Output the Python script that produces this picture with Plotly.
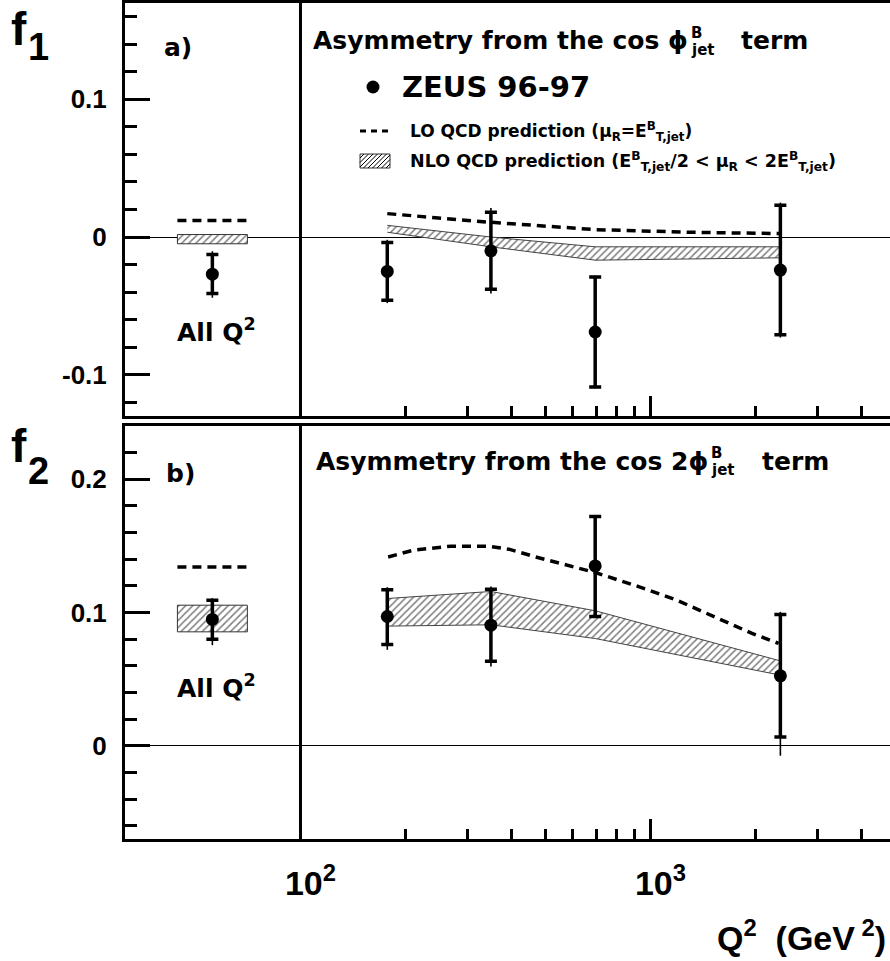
import numpy as np
import plotly.graph_objects as go

# ---------------- data ----------------
Q2_BINS = [177, 350, 695, 2350]

F1 = [-0.025, -0.010, -0.069, -0.024]
F1_STAT = [0.021, 0.028, 0.040, 0.047]
F1_TOT = [0.023, 0.031, 0.041, 0.049]
F1_NLO_LOW = [0.0035, -0.0071, -0.0168, -0.0151]
F1_NLO_HIGH = [0.0085, 0.0000, -0.0071, -0.0071]
F1_LO_Q2 = [177, 350, 695, 1280, 2330]
F1_LO = [0.0170, 0.0107, 0.0054, 0.0035, 0.0025]

F2 = [0.0970, 0.0905, 0.1350, 0.0525]
F2_STAT_UP = [0.020, 0.027, 0.037, 0.046]
F2_STAT_DN = [0.021, 0.027, 0.038, 0.046]
F2_TOT_UP = [0.022, 0.029, 0.038, 0.048]
F2_TOT_DN = [0.025, 0.031, 0.039, 0.060]
F2_NLO_LOW = [0.0898, 0.0908, 0.0805, 0.0530]
F2_NLO_HIGH = [0.1105, 0.1158, 0.1013, 0.0637]
F2_LO_Q2 = [178, 210, 269, 345, 396, 470, 695, 929, 1188, 1523, 1950, 2323]
F2_LO = [0.1417, 0.1468, 0.1498, 0.1498, 0.1474, 0.1417, 0.1300,
         0.1193, 0.1093, 0.0967, 0.0843, 0.0768]

# "All Q^2" summary values
F1_ALL = -0.0270
F1_ALL_STAT = [0.0143, 0.0140]   # up, down
F1_ALL_TOT = [0.0167, 0.0171]
F1_ALL_LO = 0.0120
F1_ALL_NLO = [-0.0049, 0.0018]   # low, high

F2_ALL = 0.0948
F2_ALL_STAT = [0.0145, 0.0148]
F2_ALL_TOT = [0.0160, 0.0193]
F2_ALL_LO = 0.1342
F2_ALL_NLO = [0.0855, 0.1055]

X_TICKS = [100, 1000]
X_TICK_TEXT = ["10<sup>2</sup>", "10<sup>3</sup>"]
X_MINOR = [200, 300, 400, 500, 600, 700, 800, 900, 2000, 3000, 4000]
Y1_TICKS = [-0.1, 0, 0.1]
Y1_TEXT = ["-0.1", "0", "0.1"]
Y2_TICKS = [0, 0.1, 0.2]
Y2_TEXT = ["0", "0.1", "0.2"]

# ---------------- layout constants ----------------
W, H = 890, 961
PL, PR, PT, PB = 125, 890, 3, 839
X_RANGE = [1.4986, 3.6843]          # log10(Q2)
Y1_RANGE = [-0.13, 0.17]
Y2_RANGE = [-0.07, 0.24]
Q2_ALL_POS = 56                     # where the "All Q2" point sits
ALL_BOX = (44.5, 70.5)              # horizontal extent of the All-Q2 predictions

LBL = "Liberation Sans"
DJV = "DejaVu Sans"
NB = "\u00a0"
PHI = "\u03d5"


def XP(x):
    return (x - PL) / (PR - PL)


def YP(y):
    return (PB - y) / (PB - PT)


fig = go.Figure()

HATCH = dict(shape="/", fgcolor="black", bgcolor="white", size=5, solidity=0.3)
LO_DASH = "9px,6px"


def add_panel(xa, ya, vals, st_up, st_dn, tot_up, tot_dn, nlo_lo, nlo_hi,
              lo_q2, lo_v, all_v, all_st, all_tot, all_lo, all_nlo):
    # NLO band (hatched)
    fig.add_trace(go.Scatter(
        x=Q2_BINS + Q2_BINS[::-1], y=nlo_hi + nlo_lo[::-1],
        mode="lines", fill="toself", fillcolor="white", fillpattern=HATCH,
        line=dict(color="#444", width=1), xaxis=xa, yaxis=ya,
        showlegend=False, hoverinfo="skip"))
    # All Q2 NLO box
    bx = [ALL_BOX[0], ALL_BOX[1], ALL_BOX[1], ALL_BOX[0], ALL_BOX[0]]
    by = [all_nlo[0], all_nlo[0], all_nlo[1], all_nlo[1], all_nlo[0]]
    fig.add_trace(go.Scatter(
        x=bx, y=by, mode="lines", fill="toself", fillcolor="white",
        fillpattern=HATCH, line=dict(color="#333", width=1),
        xaxis=xa, yaxis=ya, showlegend=False, hoverinfo="skip"))
    # LO dashed
    fig.add_trace(go.Scatter(
        x=lo_q2, y=lo_v, mode="lines",
        line=dict(color="black", width=3.5, dash=LO_DASH),
        xaxis=xa, yaxis=ya, showlegend=False))
    fig.add_trace(go.Scatter(
        x=list(ALL_BOX), y=[all_lo, all_lo], mode="lines",
        line=dict(color="black", width=3.5, dash=LO_DASH),
        xaxis=xa, yaxis=ya, showlegend=False))
    # total errors (thin) then statistical (thick with caps) + points
    xs = [Q2_ALL_POS] + Q2_BINS
    ys = [all_v] + vals
    fig.add_trace(go.Scatter(
        x=xs, y=ys, mode="markers", marker=dict(size=1, color="black"),
        error_y=dict(type="data", symmetric=False,
                     array=[all_tot[0]] + tot_up, arrayminus=[all_tot[1]] + tot_dn,
                     thickness=1.6, width=0, color="black"),
        xaxis=xa, yaxis=ya, showlegend=False))
    fig.add_trace(go.Scatter(
        x=xs, y=ys, mode="markers", marker=dict(size=13, color="black"),
        error_y=dict(type="data", symmetric=False,
                     array=[all_st[0]] + st_up, arrayminus=[all_st[1]] + st_dn,
                     thickness=3.5, width=6, color="black"),
        xaxis=xa, yaxis=ya, showlegend=False))


add_panel("x", "y", F1, F1_STAT, F1_STAT, F1_TOT, F1_TOT, F1_NLO_LOW, F1_NLO_HIGH,
          F1_LO_Q2, F1_LO, F1_ALL, F1_ALL_STAT, F1_ALL_TOT, F1_ALL_LO, F1_ALL_NLO)
add_panel("x2", "y2", F2, F2_STAT_UP, F2_STAT_DN, F2_TOT_UP, F2_TOT_DN, F2_NLO_LOW,
          F2_NLO_HIGH, F2_LO_Q2, F2_LO, F2_ALL, F2_ALL_STAT, F2_ALL_TOT, F2_ALL_LO,
          F2_ALL_NLO)

xcommon = dict(type="log", range=X_RANGE, showgrid=False, zeroline=False,
               showline=True, linewidth=3, linecolor="black", mirror=True,
               ticks="inside", ticklen=20, tickwidth=2.5, tickcolor="black",
               tickmode="array", tickvals=X_TICKS, ticktext=X_TICK_TEXT,
               minor=dict(ticks="inside", ticklen=10, tickwidth=2.5,
                          tickcolor="black", tickvals=X_MINOR, showgrid=False))
ycommon = dict(showgrid=False, showline=True, linewidth=3, linecolor="black",
               ticks="inside", ticklen=25, tickwidth=3, tickcolor="black",
               zeroline=True, zerolinewidth=1, zerolinecolor="black",
               tickfont=dict(family=LBL, size=26, color="black", weight="bold"),
               ticklabelstandoff=10, tickmode="array")

fig.update_layout(
    width=W, height=H,
    margin=dict(l=PL, r=W - PR, t=PT, b=H - PB, pad=0),
    paper_bgcolor="white", plot_bgcolor="white",
    showlegend=False,
    xaxis=dict(xcommon, anchor="y", showticklabels=False),
    xaxis2=dict(xcommon, anchor="y2", showticklabels=True,
                tickfont=dict(family=LBL, size=34, color="black", weight="bold"),
                ticklabelstandoff=12, ticklabelshift=10),
    yaxis=dict(ycommon, domain=[YP(416), 1], range=Y1_RANGE, anchor="x",
               tickvals=Y1_TICKS, ticktext=Y1_TEXT,
               minor=dict(ticks="inside", ticklen=12, tickwidth=3, tickcolor="black",
                          tickvals=[round(v, 2) for v in np.arange(-0.12, 0.17, 0.02)])),
    yaxis2=dict(ycommon, domain=[0, YP(426)], range=Y2_RANGE, anchor="x2",
                tickvals=Y2_TICKS, ticktext=Y2_TEXT,
                minor=dict(ticks="inside", ticklen=12, tickwidth=3, tickcolor="black",
                           tickvals=[round(v, 2) for v in np.arange(-0.06, 0.24, 0.02)])),
)

# vertical divider at Q2 = 100
xdiv = (np.log10(100) - X_RANGE[0]) / (X_RANGE[1] - X_RANGE[0])
shapes = []
for yr in ("y domain", "y2 domain"):
    shapes.append(dict(type="line", xref="paper", yref=yr, x0=xdiv, x1=xdiv,
                       y0=0, y1=1, line=dict(color="black", width=3)))

# legend keys (panel a)
shapes.append(dict(type="circle", xref="paper", yref="paper",
                   x0=XP(366.5), x1=XP(379.5), y0=YP(93.5), y1=YP(80.5),
                   fillcolor="black", line=dict(width=0)))
shapes.append(dict(type="line", xref="paper", yref="paper",
                   x0=XP(360), x1=XP(391), y0=YP(131), y1=YP(131),
                   line=dict(color="black", width=3, dash="6px,5px")))
# hatched key box
hx0, hy0, hx1, hy1 = 360, 154, 390, 168
shapes.append(dict(type="rect", xref="paper", yref="paper",
                   x0=XP(hx0), x1=XP(hx1), y0=YP(hy1), y1=YP(hy0),
                   fillcolor="white", line=dict(color="#333", width=1)))
for c in np.arange(hx0 + hy0 + 4, hx1 + hy1, 4.5):
    xa_ = max(hx0, c - hy1)
    xb_ = min(hx1, c - hy0)
    if xb_ - xa_ > 0.5:
        shapes.append(dict(type="line", xref="paper", yref="paper",
                           x0=XP(xa_), y0=YP(c - xa_), x1=XP(xb_), y1=YP(c - xb_),
                           line=dict(color="black", width=1)))
fig.update_layout(shapes=shapes)

ann = []


def A(text, x, y, size, family=DJV, xanchor="left", yanchor="middle"):
    ann.append(dict(text=text, x=XP(x), y=YP(y), xref="paper", yref="paper",
                    xanchor=xanchor, yanchor=yanchor, showarrow=False, borderpad=0,
                    font=dict(family=family, size=size, color="black", weight="bold")))


# axis letters
A("f", 10, 29, 46, LBL)
A("1", 27, 47, 38, LBL)
A("f", 10, 446, 46, LBL)
A("2", 27, 471, 38, LBL)
# panel tags
A("a)", 163, 47, 25)
A("b)", 165, 473, 25)
A("All Q<sup>2</sup>", 176, 330, 25)
A("All Q<sup>2</sup>", 176, 686, 25)
# panel titles: stacked B / jet on phi
A("Asymmetry from the cos " + PHI, 689, 41, 25, xanchor="right")
A("B", 690, 33, 15)
A("jet", 690, 50, 15)
A("term", 740, 41, 25)
A("Asymmetry from the cos 2" + PHI, 709, 461, 25, xanchor="right")
A("B", 710, 453, 15)
A("jet", 710, 470, 15)
A("term", 761, 461, 25)
# legend texts
A("ZEUS 96-97", 401, 87, 29)
A("LO QCD prediction (μ<sub>R</sub>=E<sup>B</sup><sub>T,jet</sub>)", 409, 131, 17)
A("NLO QCD prediction (E<sup>B</sup><sub>T,jet</sub>/2 &lt; μ<sub>R</sub> &lt; 2E<sup>B</sup><sub>T,jet</sub>)",
  409, 161, 17.5)
# x axis title
A("Q<sup>2</sup>" + NB * 2 + "(GeV<sup>" + NB + "2</sup>)", 887, 935, 34, LBL, xanchor="right")
fig.update_layout(annotations=ann)

fig.write_html("out.html",
               config={"displayModeBar": False},
               post_script="document.body.style.margin='0px';"
                           "document.body.style.padding='0px';"
                           "document.body.style.overflow='hidden';")
